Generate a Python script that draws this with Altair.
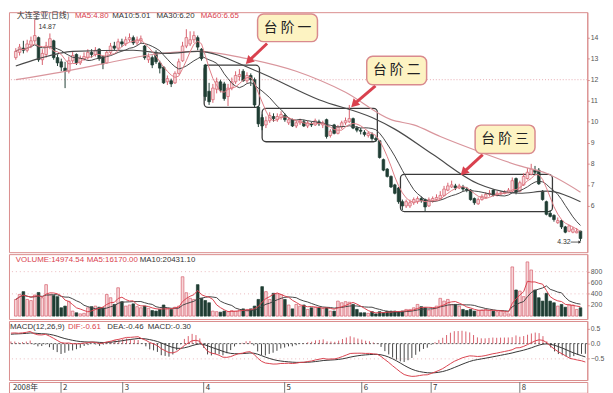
import altair as alt
import pandas as pd

# ---------------- values ----------------
opens = [13.05, 13.30, 13.50, 13.40, 13.65, 13.85, 14.00, 12.95, 13.20, 13.55,
         13.85, 13.05, 12.85, 12.55, 12.40, 12.90, 13.20, 12.80, 13.00, 13.05,
         13.30, 13.20, 13.45, 13.10, 12.80, 13.30, 13.60, 13.50, 13.80, 13.70,
         13.90, 14.00, 13.75, 13.85, 13.60, 12.95, 13.05, 13.30, 12.80, 12.60,
         11.90, 11.95, 11.85, 12.30, 12.90, 13.60, 13.70, 13.90, 14.00, 13.45,
         12.70, 11.45, 11.05, 11.55, 11.90, 11.80, 11.20, 11.60, 11.90, 12.15,
         12.40, 11.95, 12.20, 12.00, 10.70, 10.20, 9.85, 10.05, 10.25, 10.10,
         10.20, 10.30, 9.95, 10.10, 9.80, 9.95, 10.00, 9.80, 9.90, 9.85,
         10.00, 9.85, 10.10, 9.35, 9.85, 9.45, 9.75, 9.95, 10.00, 10.15,
         9.70, 9.60, 9.50, 9.35, 9.40, 9.20, 9.10, 8.20, 7.75, 7.40,
         7.00, 6.85, 6.20, 6.00, 6.00, 6.15, 6.20, 6.35, 6.30, 6.00,
         6.25, 6.30, 6.35, 6.50, 6.75, 6.90, 6.95, 6.85, 6.90, 6.80,
         6.75, 6.35, 6.10, 6.30, 6.40, 6.55, 6.75, 6.50, 6.58, 6.60,
         6.65, 6.70, 7.30, 6.70, 7.00, 7.30, 7.50, 7.70, 7.70, 6.70,
         6.20, 5.65, 5.55, 5.20, 5.30, 5.00, 4.80, 4.75, 4.72, 4.80]
closes = [13.35, 13.55, 13.40, 13.70, 13.85, 14.10, 12.95, 13.25, 13.60, 13.95,
          13.05, 12.80, 12.60, 12.40, 12.90, 13.15, 12.80, 13.00, 13.10, 13.30,
          13.20, 13.40, 13.00, 12.75, 13.30, 13.60, 13.50, 13.80, 13.70, 13.90,
          14.00, 13.75, 13.90, 13.95, 13.05, 13.10, 12.70, 12.85, 12.55, 11.85,
          12.05, 11.80, 12.30, 12.85, 13.60, 14.00, 13.90, 14.10, 13.55, 13.00,
          11.20, 10.95, 11.60, 11.90, 11.50, 11.10, 11.60, 11.90, 12.20, 12.25,
          11.95, 12.20, 12.00, 10.80, 9.90, 9.80, 10.05, 10.30, 10.15, 10.25,
          10.35, 10.10, 10.10, 9.80, 9.95, 10.05, 9.80, 9.95, 9.85, 10.05,
          9.90, 9.95, 9.30, 9.55, 9.45, 9.75, 9.95, 10.05, 10.15, 9.70,
          9.60, 9.55, 9.40, 9.45, 9.20, 9.15, 8.30, 7.70, 7.40, 6.90,
          6.60, 6.20, 6.00, 6.20, 6.15, 6.30, 6.35, 6.25, 5.95, 6.30,
          6.35, 6.40, 6.50, 6.80, 6.95, 7.00, 6.85, 6.95, 6.80, 6.75,
          6.30, 6.15, 6.30, 6.45, 6.55, 6.60, 6.50, 6.60, 6.62, 6.65,
          6.75, 7.20, 6.65, 7.10, 7.40, 7.60, 7.75, 7.60, 7.05, 6.30,
          5.60, 5.50, 5.35, 5.30, 5.00, 4.75, 5.05, 4.90, 4.80, 4.45]
highs = [13.50, 13.70, 13.85, 13.90, 14.05, 14.87, 14.05, 13.45, 13.80, 14.20,
         13.90, 13.20, 13.00, 12.85, 13.10, 13.35, 13.25, 13.15, 13.30, 13.45,
         13.45, 13.55, 13.50, 13.15, 13.40, 13.75, 13.80, 13.95, 13.95, 14.05,
         14.20, 14.10, 14.05, 14.10, 13.65, 13.25, 13.15, 13.40, 12.90, 12.65,
         12.20, 12.05, 12.40, 13.00, 13.80, 14.40, 14.30, 14.30, 14.10, 13.50,
         12.75, 11.85, 11.80, 12.10, 12.00, 11.90, 11.80, 12.10, 12.40, 12.50,
         12.50, 12.35, 12.30, 12.10, 10.75, 10.35, 10.25, 10.45, 10.40, 10.40,
         10.50, 10.40, 10.20, 10.15, 10.05, 10.15, 10.10, 10.05, 10.00, 10.15,
         10.10, 10.05, 10.15, 9.65, 9.90, 9.85, 10.05, 10.20, 10.80, 10.20,
         9.80, 9.70, 9.60, 9.55, 9.50, 9.30, 9.10, 8.25, 7.80, 7.45,
         7.05, 6.90, 6.30, 6.30, 6.30, 6.40, 6.45, 6.45, 6.35, 6.40,
         6.45, 6.55, 6.70, 6.95, 7.10, 7.20, 7.05, 7.05, 7.00, 6.90,
         6.80, 6.40, 6.40, 6.55, 6.65, 6.75, 6.80, 6.70, 6.70, 6.75,
         6.85, 7.35, 7.35, 7.20, 7.55, 7.80, 8.00, 7.90, 7.80, 6.75,
         6.25, 5.80, 5.60, 5.45, 5.35, 5.05, 5.10, 5.00, 4.95, 4.82]
lows = [12.95, 13.15, 13.25, 13.30, 13.50, 13.75, 12.85, 12.70, 13.05, 13.45,
        12.95, 12.65, 12.40, 11.60, 12.30, 12.80, 12.70, 12.70, 12.90, 12.95,
        13.05, 13.10, 12.90, 12.50, 12.75, 13.20, 13.40, 13.40, 13.55, 13.60,
        13.80, 13.65, 13.65, 13.70, 12.95, 12.80, 12.55, 12.75, 12.30, 11.80,
        11.75, 11.65, 11.80, 12.25, 12.85, 13.50, 13.60, 13.75, 13.40, 12.90,
        11.00, 10.80, 10.90, 11.35, 11.40, 11.00, 10.75, 11.50, 11.80, 11.95,
        11.90, 11.85, 11.70, 10.70, 9.75, 9.60, 9.70, 9.95, 10.00, 10.00,
        10.10, 10.00, 9.85, 9.75, 9.70, 9.85, 9.75, 9.70, 9.75, 9.80,
        9.80, 9.70, 9.20, 9.25, 9.40, 9.40, 9.65, 9.85, 9.95, 9.65,
        9.50, 9.40, 9.30, 9.25, 9.10, 9.05, 8.25, 7.65, 7.35, 6.85,
        6.55, 6.10, 5.80, 5.90, 5.90, 6.05, 6.10, 6.15, 5.75, 5.95,
        6.15, 6.25, 6.30, 6.45, 6.70, 6.85, 6.75, 6.80, 6.70, 6.65,
        6.25, 6.05, 6.05, 6.25, 6.35, 6.45, 6.45, 6.45, 6.50, 6.55,
        6.60, 6.65, 6.55, 6.65, 6.95, 7.25, 7.45, 7.45, 7.00, 6.25,
        5.55, 5.45, 5.25, 5.15, 4.90, 4.70, 4.75, 4.70, 4.70, 4.32]
# traded volume, in hundreds of shares
volumes = [300, 390, 440, 300, 280, 380, 425, 330, 566, 390,
           370, 350, 150, 180, 265, 90, 60, 40, 50, 150,
           170, 180, 160, 150, 390, 330, 210, 510, 260, 180,
           200, 220, 170, 150, 180, 140, 100, 90, 120, 200,
           140, 120, 160, 180, 708, 420, 320, 300, 566, 320,
           280, 240, 90, 80, 70, 90, 80, 100, 90, 110,
           130, 120, 130, 180, 300, 530, 440, 300, 410, 400,
           390, 300, 200, 130, 210, 180, 200, 120, 150, 160,
           150, 140, 150, 90, 90, 270, 240, 260, 250, 210,
           120, 60, 60, 50, 80, 40, 80, 60, 90, 90,
           90, 80, 90, 120, 120, 150, 210, 170, 150, 110,
           130, 180, 320, 270, 300, 210, 210, 180, 120, 100,
           120, 90, 100, 110, 120, 100, 90, 80, 90, 60,
           40, 885, 470, 450, 350, 975, 830, 470, 330, 270,
           410, 270, 240, 180, 210, 160, 210, 200, 120, 150]

ma30_days = [0, 6, 15, 31, 40, 48, 63, 80, 94, 100, 110, 122, 133, 140, 149]
ma30_vals = [12.65, 13.0, 13.35, 13.4, 13.25, 13.35, 12.45, 11.05, 10.2, 9.65, 8.45, 7.05, 6.6, 6.7, 6.2]
ma60_days = [0, 10, 23, 36, 48, 61, 74, 87, 99, 105, 112, 122, 133, 140, 149]
ma60_vals = [12.0, 12.3, 12.75, 13.2, 13.35, 13.0, 12.4, 11.4, 10.1, 9.85, 9.3, 8.6, 7.9, 7.55, 6.65]

month_days = [0, 13, 29, 50, 71, 91, 109, 132]
month_labels = ["2008年", "2", "3", "4", "5", "6", "7", "8"]

price_ticks = [6, 7, 8, 9, 10, 11, 12, 13, 14]
volume_ticks = [200, 400, 600, 800]
macd_ticks = [0.5, 0.0, -0.5]

# "steps" boxes and call-outs (day, price coordinates)
step_names = ["台 阶 一", "台 阶 二", "台 阶 三"]
step_day0 = [49.7, 65.0, 101.5]
step_day1 = [64.3, 95.4, 141.6]
step_top = [12.69, 10.64, 7.50]
step_bot = [10.68, 9.05, 5.73]
callout_day0 = [63.8, 92.6, 121.2]
callout_day1 = [79.6, 108.4, 137.0]
callout_top = [15.12, 13.11, 9.84]
callout_bot = [13.81, 11.76, 8.49]
arrow_day0 = [66.3, 94.9, 123.2]
arrow_p0 = [13.72, 11.71, 8.44]
arrow_day1 = [61.7, 89.5, 118.4]
arrow_p1 = [12.93, 10.87, 7.64]

# ---------------- derived indicators ----------------
n = len(closes)
df = pd.DataFrame({"day": list(range(n)), "open": opens, "close": closes,
                   "high": highs, "low": lows, "vol": volumes})
df["up"] = df["close"] >= df["open"]
df["ma5"] = df["close"].rolling(5, min_periods=1).mean()
df["ma10"] = df["close"].rolling(10, min_periods=1).mean()
df["vma5"] = df["vol"].rolling(5, min_periods=1).mean()
df["vma10"] = df["vol"].rolling(10, min_periods=1).mean()
ema12, ema26, dea = 13.10, 12.75, 0.30   # state carried in from before the window
difs, deas = [], []
for c in closes:
    ema12 = ema12 * 11 / 13 + c * 2 / 13
    ema26 = ema26 * 25 / 27 + c * 2 / 27
    dif = ema12 - ema26
    dea = dea * 0.8 + dif * 0.2
    difs.append(dif)
    deas.append(dea)
df["dif"] = difs
df["dea"] = deas
df["macd"] = [2 * (a - b) for a, b in zip(difs, deas)]
df["pos"] = df["macd"] > 0

ma30_df = pd.DataFrame({"day": ma30_days, "v": ma30_vals})
ma60_df = pd.DataFrame({"day": ma60_days, "v": ma60_vals})
steps = pd.DataFrame({"d0": step_day0, "d1": step_day1, "top": step_top, "bot": step_bot})
callouts = pd.DataFrame({"d0": callout_day0, "d1": callout_day1, "top": callout_top,
                         "bot": callout_bot, "name": step_names})
callouts["cx"] = (callouts["d0"] + callouts["d1"]) / 2
callouts["cy"] = (callouts["top"] + callouts["bot"]) / 2
arrows = pd.DataFrame({"d0": arrow_day0, "p0": arrow_p0, "d1": arrow_day1, "p1": arrow_p1})
months = pd.DataFrame({"day": month_days, "label": month_labels})

# ---------------- styles ----------------
W = 588
FRAME = "#d98c8c"
UP_FILL = "#f7d6d9"
UP_LINE = "#d65f6c"
DOWN = "#1f3d33"
RED = "#d9414e"
DARK = "#333333"
LATIN = "Liberation Sans"
CJK = "Noto Sans CJK SC"


def XQ(f):
    return alt.X(f, scale=alt.Scale(domain=[-0.5, 149.5], nice=False, zero=False), axis=None)


X = XQ("day:Q")


def axis(vals, fmt):
    return alt.Axis(orient="right", values=vals, format=fmt, title=None, grid=False,
                    tickSize=2, labelPadding=1, labelFontSize=7, labelColor="#555",
                    labelFont=LATIN, domainColor=FRAME, tickColor=FRAME)


def header(items, y):
    layers = []
    for txt, xpos, col, font in items:
        layers.append(alt.Chart(pd.DataFrame({"t": [txt]})).mark_text(
            align="left", baseline="middle", fontSize=8, font=font, color=col
        ).encode(x=alt.value(xpos), y=alt.value(y), text="t:N"))
    return layers


up_fill = alt.condition("datum.up", alt.value(UP_FILL), alt.value(DOWN))
up_line = alt.condition("datum.up", alt.value(UP_LINE), alt.value(DOWN))

# ---------------- price panel ----------------
PAX = axis(price_ticks, "d")


def PY(f):
    return alt.Y(f, scale=alt.Scale(domain=[3.8, 15.21], nice=False, zero=False), axis=PAX)


grid12 = alt.Chart(pd.DataFrame({"v": [12]})).mark_rule(
    color="#e6a9b0", strokeDash=[1, 2], strokeWidth=1).encode(y=PY("v:Q"))
step_boxes = alt.Chart(steps).mark_rect(filled=False, color="#3a3a3a", strokeWidth=1.3,
                                        cornerRadius=4).encode(
    x=XQ("d0:Q"), x2="d1:Q", y=PY("top:Q"), y2="bot:Q")
wicks = alt.Chart(df).mark_rule(strokeWidth=1).encode(x=X, y=PY("low:Q"), y2="high:Q", color=up_line)
bodies = alt.Chart(df).mark_bar(size=2.7, strokeWidth=0.7).encode(
    x=X, y=PY("open:Q"), y2="close:Q", fill=up_fill, stroke=up_line)
ma5_line = alt.Chart(df).mark_line(color="#df7d86", strokeWidth=1).encode(x=X, y=PY("ma5:Q"))
ma10_line = alt.Chart(df).mark_line(color="#444444", strokeWidth=1).encode(x=X, y=PY("ma10:Q"))
ma30_line = alt.Chart(ma30_df).mark_line(color="#4a4a4a", strokeWidth=1.2, interpolate="monotone").encode(
    x=X, y=PY("v:Q"))
ma60_line = alt.Chart(ma60_df).mark_line(color="#d9959c", strokeWidth=1.2, interpolate="monotone").encode(
    x=X, y=PY("v:Q"))
callout_box = alt.Chart(callouts).mark_rect(fill="#fdf3c2", stroke="#d98a8e", strokeWidth=1.5,
                                            cornerRadius=6).encode(
    x=XQ("d0:Q"), x2="d1:Q", y=PY("top:Q"), y2="bot:Q")
callout_txt = alt.Chart(callouts).mark_text(font=CJK, fontSize=14, color="#222").encode(
    x=XQ("cx:Q"), y=PY("cy:Q"), text="name:N")
arrow_shaft = alt.Chart(arrows).mark_rule(color=RED, strokeWidth=3).encode(
    x=XQ("d0:Q"), x2="d1:Q", y=PY("p0:Q"), y2="p1:Q")
arrow_head = alt.Chart(arrows).mark_point(shape="triangle", filled=True, size=90, angle=225,
                                          color=RED, opacity=1).encode(
    x=XQ("d1:Q"), y=PY("p1:Q"))

hi_df = pd.DataFrame({"d": [5.0], "d2": [6.0], "p": [14.87], "tp": [14.52], "t": ["14.87"]})
hi_mark = alt.Chart(hi_df).mark_rule(color="#555", strokeWidth=0.8).encode(
    x=XQ("d:Q"), x2="d2:Q", y=PY("p:Q"))
hi_text = alt.Chart(hi_df).mark_text(align="left", baseline="middle", fontSize=7, font=LATIN,
                                     color="#333").encode(
    x=XQ("d2:Q"), y=PY("tp:Q"), text="t:N")
lo_df = pd.DataFrame({"d": [146.4], "d2": [148.7], "p": [4.28], "t": ["4.32"]})
lo_text = alt.Chart(lo_df).mark_text(align="right", baseline="middle", fontSize=7, font=LATIN,
                                     color="#333").encode(
    x=XQ("d:Q"), y=PY("p:Q"), text="t:N")
lo_line = alt.Chart(lo_df).mark_rule(color="#333", strokeWidth=0.8).encode(
    x=XQ("d:Q"), x2="d2:Q", y=PY("p:Q"))
lo_head = alt.Chart(lo_df).mark_point(shape="triangle", filled=True, size=10, angle=90,
                                      color="#333", opacity=1).encode(
    x=XQ("d2:Q"), y=PY("p:Q"))

price = alt.layer(
    grid12, step_boxes, wicks, bodies, ma60_line, ma30_line, ma10_line, ma5_line,
    hi_mark, hi_text, lo_line, lo_head, lo_text,
    arrow_shaft, arrow_head, callout_box, callout_txt,
    *header([("大连圣亚(日线)", 8, DARK, CJK), ("MA5:4.80", 67, RED, LATIN),
             ("MA10:5.01", 105, DARK, LATIN), ("MA30:6.20", 150, DARK, LATIN),
             ("MA60:6.65", 195, RED, LATIN)], 4)
).properties(width=W, height=244)

# ---------------- volume panel ----------------
VAX = axis(volume_ticks, "d")


def VY(f):
    return alt.Y(f, scale=alt.Scale(domain=[-53, 1115], nice=False, zero=False), axis=VAX)


vgrid = alt.Chart(pd.DataFrame({"v": [400, 800]})).mark_rule(
    color="#eab9bd", strokeDash=[1, 3], strokeWidth=1).encode(y=VY("v:Q"))
vbars = alt.Chart(df).mark_bar(size=2.7, strokeWidth=0.7).encode(
    x=X, y=VY("vol:Q"), y2=alt.datum(0), fill=up_fill, stroke=up_line)
vma5 = alt.Chart(df).mark_line(color=RED, strokeWidth=1).encode(x=X, y=VY("vma5:Q"))
vma10 = alt.Chart(df).mark_line(color="#444", strokeWidth=1).encode(x=X, y=VY("vma10:Q"))
vol = alt.layer(
    vgrid, vbars, vma10, vma5,
    *header([("VOLUME:14974.54", 7, RED, LATIN), ("MA5:16170.00", 79, RED, LATIN),
             ("MA10:20431.10", 133, DARK, LATIN)], 6)
).properties(width=W, height=66)

# ---------------- MACD panel ----------------
MAX = axis(macd_ticks, ".1f")


def MY(f):
    return alt.Y(f, scale=alt.Scale(domain=[-1.194, 0.742], nice=False, zero=False), axis=MAX)


mgrid = alt.Chart(pd.DataFrame({"v": [-0.5]})).mark_rule(
    color="#eab9bd", strokeDash=[1, 3], strokeWidth=1).encode(y=MY("v:Q"))
mzero = alt.Chart(pd.DataFrame({"v": [0.0]})).mark_rule(
    color="#555", strokeDash=[2, 2], strokeWidth=1).encode(y=MY("v:Q"))
mhist = alt.Chart(df).mark_rule(strokeWidth=1).encode(
    x=X, y=MY("macd:Q"), y2=alt.datum(0),
    color=alt.condition("datum.pos", alt.value("#d9606c"), alt.value("#444")))
dea_line = alt.Chart(df).mark_line(color="#333", strokeWidth=1).encode(x=X, y=MY("dea:Q"))
dif_line = alt.Chart(df).mark_line(color=RED, strokeWidth=1).encode(x=X, y=MY("dif:Q"))
macd = alt.layer(
    mgrid, mzero, mhist, dea_line, dif_line,
    *header([("MACD(12,26,9)", 1, DARK, LATIN), ("DIF:-0.61", 60, RED, LATIN),
             ("DEA:-0.46", 100, DARK, LATIN), ("MACD:-0.30", 141, DARK, LATIN)], 6)
).properties(width=W, height=60)

# ---------------- date strip ----------------
mticks = alt.Chart(months[months["day"] > 0]).mark_rule(color="#777", strokeWidth=1).encode(
    x=X, y=alt.value(0), y2=alt.value(11))
mtext = alt.Chart(months).mark_text(align="left", baseline="middle", dx=2, fontSize=8,
                                    font=CJK, color="#333").encode(
    x=X, y=alt.value(6), text="label:N")
strip = alt.layer(mticks, mtext).properties(width=W, height=11)

chart = alt.vconcat(price, vol, macd, strip, spacing=0).properties(
    padding=0, background="white"
).configure_view(stroke=FRAME, strokeWidth=1)

chart.save("out.html", embed_options={"renderer": "svg", "actions": False})
